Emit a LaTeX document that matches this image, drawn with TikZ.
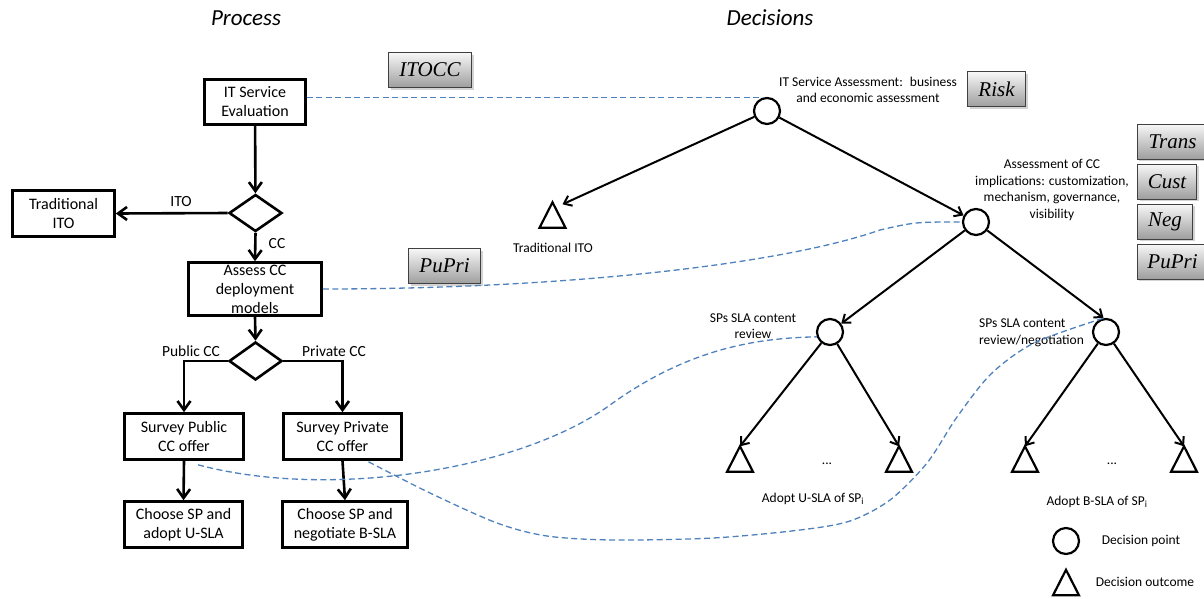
\documentclass[tikz,border=0pt]{standalone}
\usepackage{fontspec}
\setmainfont{Carlito}
\newfontfamily\tnrfont{Liberation Serif}
\usetikzlibrary{arrows.meta,shapes.geometric,shadows,calc}
\definecolor{dblue}{RGB}{79,129,189}
\begin{document}
\begin{tikzpicture}[x=1pt,y=-1pt,
  pbox/.style={draw, line width=2.6, rectangle, inner sep=0, align=center, font=\fontsize{16}{19}\selectfont},
  dec/.style={draw, line width=2.6, diamond, inner sep=0, minimum width=53, minimum height=37},
  parr/.style={line width=2.6, -{Straight Barb[length=9,width=13]}},
  tarr/.style={line width=2, -{Straight Barb[length=7,width=11]}},
  dpt/.style={draw, circle, line width=2.2, minimum size=26, inner sep=0},
  outc/.style={rectangle, inner sep=0, minimum width=25.5, minimum height=25},
  tri/.style={line width=2.2, line join=miter},
  lbl/.style={font=\fontsize{13.5}{16.5}\selectfont, align=center, inner sep=0},
  plbl/.style={font=\fontsize{15.5}{18}\selectfont, inner sep=0},
  gbox/.style={draw=black!75, line width=0.8, top color=black!3, bottom color=black!38, inner sep=0, minimum height=35, font=\tnrfont\itshape\fontsize{21}{24}\selectfont, drop shadow={shadow xshift=2pt, shadow yshift=-2pt, opacity=0.35}},
  dline/.style={draw=dblue, line width=1.3, dash pattern=on 6pt off 3.5pt},
  ttl/.style={font=\itshape\fontsize{23}{27}\selectfont, inner sep=0}
]
\useasboundingbox (0,0) rectangle (1204,598);

% titles
\node[ttl] (ptitle) at (246,18) {Process};
\node[ttl] (dtitle) at (770,18) {Decisions};

% process
\node[pbox, minimum width=101, minimum height=45] (ise) at (255,102) {IT Service\\Evaluation};
\node[dec] (d1) at (255.5,213) {};
\node[pbox, minimum width=102, minimum height=46] (trad) at (63.5,213.5) {Traditional\\ITO};
\node[pbox, minimum width=133, minimum height=53] (assess) at (255,289) {Assess CC\\deployment\\models};
\node[dec, minimum height=38] (d2) at (255.5,361) {};
\node[pbox, minimum width=119, minimum height=46] (pub) at (184,436.5) {Survey Public\\CC offer};
\node[pbox, minimum width=118, minimum height=46] (prv) at (342.5,436.5) {Survey Private\\CC offer};
\node[pbox, minimum width=118, minimum height=46] (cu) at (183.5,524.5) {Choose SP and\\adopt U-SLA};
\node[pbox, minimum width=125, minimum height=46] (cb) at (345,524.5) {Choose SP and\\negotiate B-SLA};

\node[plbl] (lito) at (181,202) {ITO};
\node[plbl] (lcc) at (277,244) {CC};
\node[plbl] (lpub) at (191,351) {Public CC};
\node[plbl] (lprv) at (334,351) {Private CC};

\draw[parr] (ise) -- (d1);
\draw[parr] (d1.west) -- (trad.east);
\draw[parr] (d1.south) -- (assess.north);
\draw[parr] (assess.south) -- (d2.north);
\draw[parr] (d2.west) -| (pub.north);
\draw[parr] (d2.east) -| (prv.north);
\draw[parr] (pub.south) -- (cu.north);
\draw[parr] (prv.south) -- (cb.north);

% grey boxes
\node[gbox, minimum width=83] (gitocc) at (430,70) {ITOCC};
\node[gbox, minimum width=72] (gpupri) at (444.5,266) {PuPri};
\node[gbox, minimum width=58] (grisk) at (996.5,89) {Risk};
\node[gbox, minimum width=71] (gtrans) at (1172.5,141.5) {Trans};
\node[gbox, minimum width=59] (gcust) at (1167,181.5) {Cust};
\node[gbox, minimum width=55] (gneg) at (1165,221.5) {Neg};
\node[gbox, minimum width=71] (gpupri2) at (1172.5,261.5) {PuPri};

% decision tree
\node[dpt] (root) at (767,111) {};
\node[dpt] (cc) at (976,222) {};
\node[dpt] (lc) at (830,332) {};
\node[dpt] (rc) at (1106,332) {};
\node[outc] (t0) at (552.5,215) {};
\node[outc] (t1) at (740,459) {};
\node[outc] (t2) at (899,459) {};
\node[outc] (t3) at (1025,459) {};
\node[outc] (t4) at (1184,459) {};
\node[dpt] (lgc) at (1066,541) {};
\node[outc] (lgt) at (1066,582.5) {};
\foreach \n in {t0,t1,t2,t3,t4,lgt}
  \draw[tri] (\n.south west) -- (\n.north) -- (\n.south east) -- cycle;

\draw[tarr] (root) -- ([xshift=10,yshift=-2]t0.north);
\draw[tarr] (root) -- (cc);
\draw[tarr] (cc) -- (lc);
\draw[tarr] (cc) -- (rc.100);
\draw[tarr] (lc) -- (t1.north);
\draw[tarr] (lc) -- (t2.north);
\draw[tarr] (rc) -- (t3.north);
\draw[tarr] (rc) -- (t4.north);

\node[lbl] (l0) at (868,90) {IT Service Assessment:~ business\\and economic assessment};
\node[lbl, font=\fontsize{13.5}{16.8}\selectfont] (l1) at (1052,190) {Assessment of CC\\implications: customization,\\mechanism, governance,\\visibility};
\node[lbl] (lt0) at (553,248) {Traditional ITO};
\node[lbl] (l2) at (753,326) {SPs SLA content\\review};
\node[lbl, align=left, anchor=west] (l3) at (979,333) {SPs SLA content\\review/negotiation};
\node[lbl] (dots1) at (827,464) {...};
\node[lbl] (dots2) at (1112,464) {...};
\node[lbl] (a1) at (813,499) {Adopt U-SLA of SP\textsubscript{i}};
\node[lbl] (a2) at (1097,502) {Adopt B-SLA of SP\textsubscript{i}};
\node[lbl] (lg1) at (1141,541) {Decision point};
\node[lbl] (lg2) at (1145,582) {Decision outcome};

% dashed links
\draw[dline] (root.105 -| ise.east) -- (root.105);
\draw[dline] (assess.east) .. controls (560,289) and (780,265) .. (880,230) .. controls (915,222) .. (cc.west);
\draw[dline] ([xshift=14,yshift=-4]pub.south) .. controls (330,500) and (520,470) .. (610,405) .. controls (690,347) and (760,338) .. (lc.200);
\draw[dline] plot[smooth, tension=0.5] coordinates {([xshift=26,yshift=-1]prv.south) (430,493) (497,523) (547,536) (613,540) (713,538) (800,530) (850,521) (890,500) (927,463) (957,417) (991,374) (1034,343) (rc.100)};
\end{tikzpicture}
\end{document}
